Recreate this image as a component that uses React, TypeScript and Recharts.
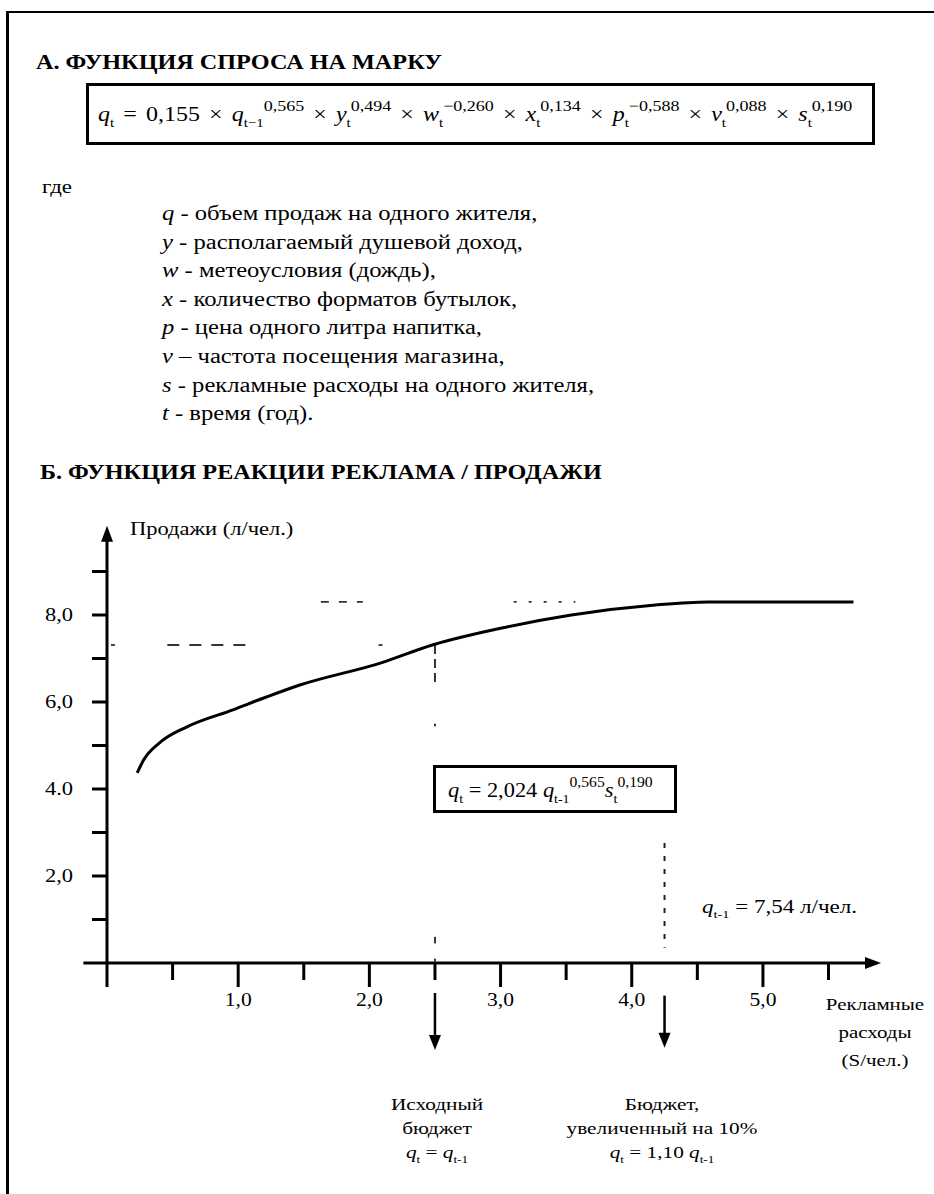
import React from 'react';
import { LineChart, Line, XAxis, YAxis, ReferenceLine, ReferenceDot } from 'recharts';

// кривая реакции продаж на рекламу
const spend = [0.23, 0.28, 0.4, 0.61, 0.96, 1.22, 1.47, 2.09, 2.48, 3.04, 3.54, 4.18, 4.58, 5.69];
const sales = [4.37, 4.67, 5.06, 5.43, 5.82, 6.12, 6.39, 6.9, 7.31, 7.72, 8.0, 8.23, 8.3, 8.3];

const xTicks = [0, 0.5, 1, 1.5, 2, 2.5, 3, 3.5, 4, 4.5, 5, 5.5];
const xTickLabels: Record<number, string> = { 1: '1,0', 2: '2,0', 3: '3,0', 4: '4,0', 5: '5,0' };
const yTicks = [1, 2, 3, 4, 5, 6, 7, 8, 9];
const yTickLabels: Record<number, string> = { 2: '2,0', 4: '4.0', 6: '6,0', 8: '8,0' };

// исходный бюджет и бюджет +10%
const budgetBase = 2.5;
const budgetUp = 4.25;
const salesBase = 7.31;
const salesUp = 8.3;

const demandTerms = [
  { v: 'q', sub: 't−1', exp: '0,565' },
  { v: 'y', sub: 't', exp: '0,494' },
  { v: 'w', sub: 't', exp: '−0,260' },
  { v: 'x', sub: 't', exp: '0,134' },
  { v: 'p', sub: 't', exp: '−0,588' },
  { v: 'v', sub: 't', exp: '0,088' },
  { v: 's', sub: 't', exp: '0,190' },
];

const variables = [
  ['q', ' - объем продаж на одного жителя,'],
  ['y', ' - располагаемый душевой доход,'],
  ['w', ' - метеоусловия (дождь),'],
  ['x', ' - количество форматов бутылок,'],
  ['p', ' - цена одного литра напитка,'],
  ['v', ' – частота посещения магазина,'],
  ['s', ' - рекламные расходы на одного жителя,'],
  ['t', ' - время (год).'],
];

const FONT = '"Liberation Serif", "Times New Roman", serif';

const chartData = spend.map((s, i) => ({ spend: s, sales: sales[i] }));

const Term = ({ v, sub, exp, size, expScale = 0.7 }: { v: string; sub?: string; exp?: string; size: number; expScale?: number }) => (
  <span>
    <i>{v}</i>
    {sub && (
      <span style={{ fontSize: size * 0.62, position: 'relative', top: size * 0.28 }}>{sub}</span>
    )}
    {exp && (
      <span style={{ fontSize: size * expScale, position: 'relative', top: -size * 0.5 }}>{exp}</span>
    )}
  </span>
);

const Op = ({ c }: { c: string }) => <span style={{ margin: '0 7.6px' }}>{c}</span>;

const Txt = ({
  x, y, size = 18, sx = 1.2, center, bold, children,
}: {
  x: number; y: number; size?: number; sx?: number; center?: boolean; bold?: boolean; children: React.ReactNode;
}) => (
  <div
    style={{
      position: 'absolute',
      left: x,
      top: y - size * 0.6,
      fontSize: size,
      lineHeight: `${size * 1.2}px`,
      fontWeight: bold ? 'bold' : 'normal',
      whiteSpace: 'nowrap',
      transform: center ? `translateX(-50%) scaleX(${sx})` : `scaleX(${sx})`,
      transformOrigin: center ? 'center' : 'left center',
    }}
  >
    {children}
  </div>
);

const XTick = (props: any) => {
  const { x, y, payload } = props;
  const major = Number.isInteger(payload.value);
  const label = xTickLabels[payload.value];
  return (
    <g>
      <line x1={x} x2={x} y1={y} y2={y + (major ? 24 : 17)} stroke="#000" strokeWidth={3} />
      {label && (
        <text
          transform={`translate(${x},${y + 37}) scale(1.2,1)`}
          dy="0.35em"
          textAnchor="middle"
          fontSize={18}
          fontFamily={FONT}
          fill="#000"
        >
          {label}
        </text>
      )}
    </g>
  );
};

const YTick = (props: any) => {
  const { x, y, payload } = props;
  const label = yTickLabels[payload.value];
  return (
    <g>
      <line x1={x - 15} x2={x} y1={y} y2={y} stroke="#000" strokeWidth={3} />
      {label && (
        <text
          transform={`translate(${x - 48},${y}) scale(1.25,1)`}
          dy="0.35em"
          textAnchor="middle"
          fontSize={18}
          fontFamily={FONT}
          fill="#000"
        >
          {label}
        </text>
      )}
    </g>
  );
};

const arrowUp = (p: any) => <path d={`M${p.cx},${p.cy} L${p.cx - 6},${p.cy + 16} L${p.cx + 6},${p.cy + 16} Z`} fill="#000" />;
const arrowRight = (p: any) => <path d={`M${p.cx},${p.cy} L${p.cx - 16},${p.cy - 6} L${p.cx - 16},${p.cy + 6} Z`} fill="#000" />;
const arrowDown = (p: any) => <path d={`M${p.cx},${p.cy} L${p.cx - 6},${p.cy - 15} L${p.cx + 6},${p.cy - 15} Z`} fill="#000" />;

const dash = { stroke: '#333', strokeWidth: 1.8, ifOverflow: 'visible' as const };

export default function App() {
  return (
    <div
      style={{
        position: 'absolute',
        left: 0,
        top: 0,
        width: 934,
        height: 1194,
        background: '#fff',
        fontFamily: FONT,
        color: '#000',
        overflow: 'hidden',
      }}
    >
      {/* рамка скана */}
      <div style={{ position: 'absolute', left: 6, top: 11, width: 928, height: 2, background: '#000' }} />
      <div style={{ position: 'absolute', left: 6, top: 11, width: 3, height: 1183, background: '#000' }} />

      <div style={{ position: 'absolute', left: 0, top: 500 }}>
        <LineChart width={934} height={580} data={chartData} margin={{ top: 28, right: 53, bottom: 77, left: 47 }}>
          <XAxis
            dataKey="spend"
            type="number"
            domain={[0, 5.9]}
            ticks={xTicks}
            interval={0}
            axisLine={false}
            tickLine={false}
            tickSize={0}
            tickMargin={0}
            height={40}
            tick={<XTick />}
          />
          <YAxis
            type="number"
            domain={[0, 10]}
            ticks={yTicks}
            interval={0}
            axisLine={false}
            tickLine={false}
            tickSize={0}
            tickMargin={0}
            width={60}
            tick={<YTick />}
          />
          {/* оси */}
          <ReferenceLine segment={[{ x: -0.18, y: 0 }, { x: 5.8, y: 0 }]} stroke="#000" strokeWidth={3} ifOverflow="visible" />
          <ReferenceLine segment={[{ x: 0, y: 0 }, { x: 0, y: 9.8 }]} stroke="#000" strokeWidth={3} ifOverflow="visible" />
          <ReferenceDot x={5.9} y={0} r={0} shape={arrowRight} ifOverflow="visible" />
          <ReferenceDot x={0} y={10.05} r={0} shape={arrowUp} ifOverflow="visible" />

          {/* пунктирные проекции (в скане местами пропадают) */}
          <ReferenceLine segment={[{ x: 0.03, y: salesBase }, { x: 0.06, y: salesBase }]} {...dash} />
          <ReferenceLine segment={[{ x: 0.46, y: salesBase }, { x: 1.07, y: salesBase }]} {...dash} strokeDasharray="12 10" />
          <ReferenceLine segment={[{ x: 2.07, y: salesBase }, { x: 2.1, y: salesBase }]} {...dash} />
          <ReferenceLine segment={[{ x: 1.63, y: salesUp }, { x: 1.95, y: salesUp }]} {...dash} strokeDasharray="8 10" />
          <ReferenceLine segment={[{ x: 3.1, y: salesUp }, { x: 3.57, y: salesUp }]} {...dash} strokeDasharray="3 12" />
          <ReferenceLine segment={[{ x: budgetBase, y: salesBase }, { x: budgetBase, y: 6.45 }]} {...dash} strokeWidth={2} strokeDasharray="9 5" />
          <ReferenceLine segment={[{ x: budgetBase, y: 5.5 }, { x: budgetBase, y: 5.44 }]} {...dash} strokeWidth={2} />
          <ReferenceLine segment={[{ x: budgetBase, y: 0.6 }, { x: budgetBase, y: 0.45 }]} {...dash} strokeWidth={2} />
          <ReferenceLine segment={[{ x: budgetBase, y: 0.1 }, { x: budgetBase, y: 0.03 }]} {...dash} strokeWidth={2} />
          <ReferenceLine segment={[{ x: budgetUp, y: 2.76 }, { x: budgetUp, y: 0.35 }]} {...dash} stroke="#222" strokeWidth={2} strokeDasharray="5 8" />

          {/* стрелки бюджетов */}
          <ReferenceLine segment={[{ x: budgetBase, y: -0.69 }, { x: budgetBase, y: -1.8 }]} stroke="#000" strokeWidth={2.5} ifOverflow="visible" />
          <ReferenceLine segment={[{ x: budgetUp, y: -0.75 }, { x: budgetUp, y: -1.8 }]} stroke="#000" strokeWidth={2.5} ifOverflow="visible" />
          <ReferenceDot x={budgetBase} y={-2.0} r={0} shape={arrowDown} ifOverflow="visible" />
          <ReferenceDot x={budgetUp} y={-1.95} r={0} shape={arrowDown} ifOverflow="visible" />

          <Line
            type="monotone"
            dataKey="sales"
            stroke="#000"
            strokeWidth={3}
            dot={false}
            isAnimationActive={false}
          />
        </LineChart>
      </div>

      {/* А. функция спроса */}
      <Txt x={36} y={62} size={20} sx={1.21} bold>А. ФУНКЦИЯ СПРОСА НА МАРКУ</Txt>
      <div
        style={{
          position: 'absolute',
          left: 86,
          top: 83,
          width: 783,
          height: 56,
          border: '3px solid #000',
        }}
      />
      <Txt x={98} y={114} size={20} sx={1.2}>
        <Term v="q" sub="t" size={20} />
        <Op c="=" />0,155<Op c="×" />
        {demandTerms.map((t, i) => (
          <span key={t.v}>
            <Term v={t.v} sub={t.sub} exp={t.exp} size={20} expScale={0.75} />
            {i < demandTerms.length - 1 ? <Op c="×" /> : null}
          </span>
        ))}
      </Txt>

      <Txt x={42} y={187} size={19} sx={1.2}>где</Txt>
      {variables.map(([v, text], i) => (
        <Txt key={v} x={162} y={213 + i * 28.6} size={20} sx={1.23}>
          <i>{v}</i>
          {text}
        </Txt>
      ))}

      {/* Б. функция реакции */}
      <Txt x={40} y={472} size={20} sx={1.21} bold>Б. ФУНКЦИЯ РЕАКЦИИ РЕКЛАМА / ПРОДАЖИ</Txt>
      <Txt x={130} y={530} size={18} sx={1.25}>Продажи (л/чел.)</Txt>

      <div
        style={{
          position: 'absolute',
          left: 433,
          top: 765,
          width: 238,
          height: 42,
          border: '3px solid #000',
          background: '#fff',
        }}
      />
      <Txt x={448} y={790} size={20} sx={1.12}>
        <Term v="q" sub="t" size={20} /> = 2,024 <Term v="q" sub="t-1" exp="0,565" size={20} />
        <Term v="s" sub="t" exp="0,190" size={20} />
      </Txt>

      <Txt x={702} y={908} size={18} sx={1.28}>
        <Term v="q" sub="t-1" size={18} /> = 7,54 л/чел.
      </Txt>

      <Txt x={875} y={1005} size={17} sx={1.23} center>Рекламные</Txt>
      <Txt x={875} y={1033} size={17} sx={1.23} center>расходы</Txt>
      <Txt x={875} y={1061} size={17} sx={1.23} center>(S/чел.)</Txt>

      <Txt x={437} y={1105} size={17} sx={1.25} center>Исходный</Txt>
      <Txt x={437} y={1129} size={17} sx={1.25} center>бюджет</Txt>
      <Txt x={437} y={1153} size={17} sx={1.25} center>
        <Term v="q" sub="t" size={17} /> = <Term v="q" sub="t-1" size={17} />
      </Txt>

      <Txt x={662} y={1105} size={17} sx={1.25} center>Бюджет,</Txt>
      <Txt x={662} y={1129} size={17} sx={1.25} center>увеличенный на 10%</Txt>
      <Txt x={662} y={1153} size={17} sx={1.25} center>
        <Term v="q" sub="t" size={17} /> = 1,10 <Term v="q" sub="t-1" size={17} />
      </Txt>
    </div>
  );
}
